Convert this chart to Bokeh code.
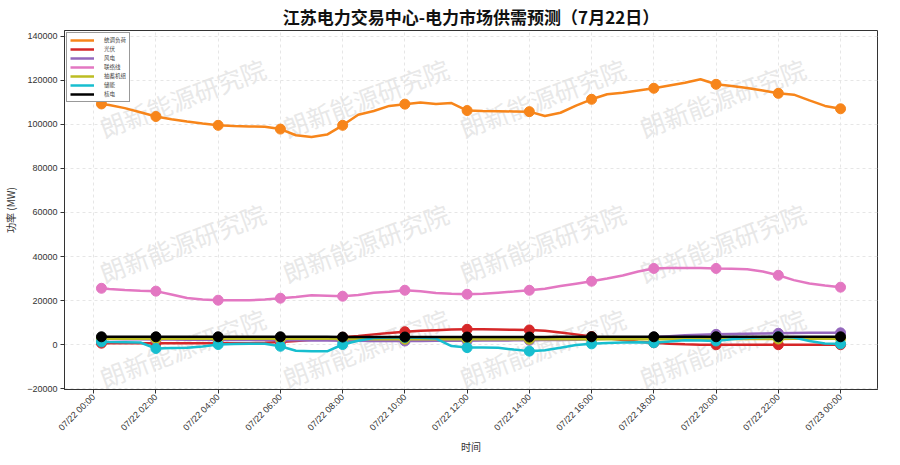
import pandas as pd
from math import pi
from bokeh.plotting import figure
from bokeh.models import (Range1d, FixedTicker, DatetimeTickFormatter, Legend, LegendItem,
                          Label, BasicTickFormatter)
from bokeh.embed import file_html
from bokeh.resources import INLINE

title_text = "江苏电力交易中心-电力市场供需预测（7月22日）"
x_label = "时间"
y_label = "功率 (MW)"
watermark = "朗新能源研究院"

series_names = ["统调负荷", "光伏", "风电", "联络线", "抽蓄机组", "储能", "核电"]
series_colors = ["#f7851a", "#d62728", "#9467bd", "#e377c2", "#bcbd22", "#17becf", "#000000"]

# time grid: 00:15, then every 30 min from 00:30 to next-day 00:00
times = pd.DatetimeIndex([pd.Timestamp("2024-07-22 00:15")]).append(
    pd.date_range("2024-07-22 00:30", "2024-07-23 00:00", freq="30min"))
tick_times = pd.date_range("2024-07-22 00:00", "2024-07-23 00:00", freq="2h")

load = [109200, 108700, 107300, 105400, 103500, 102300, 101200, 100300, 99500, 99200,
        99000, 98900, 97800, 95000, 94200, 95300, 99500, 104300, 106000, 108300,
        109100, 109900, 109200, 109600, 106200, 106000, 105900, 105800, 105700, 103700,
        105200, 108400, 111300, 113600, 114300, 115300, 116300, 117600, 118800, 120400,
        118100, 117300, 116400, 115300, 114000, 113400, 110800, 108300, 107000]
solar = [700, 700, 700, 700, 700, 700, 700, 700, 700, 700,
         700, 900, 1200, 1700, 2300, 2900, 3400, 4000, 4700, 5300,
         5900, 6300, 6600, 6900, 7000, 7000, 6900, 6800, 6700, 6300,
         5600, 4700, 3700, 2900, 2100, 1400, 900, 500, 200, 0,
         0, 0, 0, 0, 0, 0, 0, 0, 0]
wind = [2600, 2600, 2500, 2500, 2400, 2400, 2300, 2300, 2200, 2200,
        2100, 2100, 2000, 2000, 1900, 1900, 1800, 1800, 1700, 1700,
        1700, 1700, 1800, 1800, 1800, 1900, 1900, 2000, 2000, 2100,
        2200, 2300, 2500, 2700, 3000, 3200, 3500, 3900, 4300, 4500,
        4700, 4900, 5000, 5100, 5200, 5300, 5400, 5400, 5400]
tie_line = [25600, 25300, 24800, 24500, 24300, 22800, 21200, 20500, 20200, 20200,
            20200, 20500, 21100, 21700, 22400, 22200, 22000, 22600, 23600, 24000,
            24700, 24300, 23500, 23100, 22900, 23100, 23600, 24100, 24700, 25400,
            26600, 27700, 28800, 30000, 31400, 33200, 34600, 34800, 34800, 34800,
            34600, 34500, 34200, 33200, 31500, 29300, 27800, 26900, 26100]
pumped = [2700, 2700, 2700, 2700, 2700, 2700, 2700, 2700, 2700, 2700,
          2700, 2700, 2700, 2700, 2700, 2700, 2600, 2600, 2500, 2500,
          2500, 2500, 2500, 2500, 2500, 2500, 2500, 2500, 2500, 2500,
          2500, 2500, 2500, 2500, 2500, 2500, 2500, 2500, 2500, 2500,
          2600, 2600, 2600, 2600, 2600, 2700, 2700, 2700, 2700]
storage = [1300, 1200, 1100, 1000, -1700, -1500, -1400, -800, 100, 300,
           400, 400, -700, -2700, -3000, -3000, 100, 1800, 3000, 3300,
           3300, 3200, 2800, -600, -1300, -1300, -1400, -2200, -2900, -2500,
           -1400, -100, 400, 800, 1000, 1100, 900, 1500, 2000, 1900,
           1700, 2500, 3100, 3400, 3600, 3300, 1700, 600, 400]
nuclear = [3600, 3600, 3600, 3600, 3600, 3600, 3600, 3600, 3600, 3600,
           3600, 3600, 3600, 3600, 3600, 3600, 3500, 3500, 3500, 3500,
           3500, 3500, 3500, 3500, 3500, 3500, 3500, 3500, 3500, 3500,
           3600, 3600, 3600, 3600, 3600, 3600, 3600, 3600, 3600, 3600,
           3600, 3600, 3600, 3600, 3600, 3600, 3600, 3600, 3600]
series_values = [load, solar, wind, tie_line, pumped, storage, nuclear]

y_ticks = [-20000, 0, 20000, 40000, 60000, 80000, 100000, 120000, 140000]

# ---------------------------------------------------------------
ms = (times.astype("int64") // 10**6).astype(float)
tick_ms = list((tick_times.astype("int64") // 10**6).astype(float))
pad = (ms.max() - ms.min()) * 0.05
marker_mask = ((times.minute == 0) & (times.hour % 2 == 0))
marker_mask[0] = True

p = figure(width=884, height=457, output_backend="svg", toolbar_location=None,
           x_axis_type="datetime",
           x_range=Range1d(ms.min() - pad, ms.max() + pad),
           y_range=Range1d(-20300, 142500),
           min_border_left=54, min_border_right=7, min_border_top=0, min_border_bottom=40)

p.title.text = title_text
p.title.align = "center"
p.title.text_font = "Noto Sans CJK SC"
p.title.text_font_size = "17px"
p.title.text_font_style = "bold"
p.title.text_color = "#111111"
p.title.standoff = 3
p.title.offset = 0

p.outline_line_color = "#333333"
p.outline_line_width = 1
p.background_fill_color = "white"
p.border_fill_color = "white"

p.xgrid.grid_line_color = "#e6e6e6"
p.ygrid.grid_line_color = "#e6e6e6"
p.xgrid.grid_line_dash = "3 3"
p.ygrid.grid_line_dash = "3 3"

p.xaxis.ticker = FixedTicker(ticks=tick_ms)
fmt = "%m/%d %H:%M"
p.xaxis.formatter = DatetimeTickFormatter(minutes=fmt, hourmin=fmt, hours=fmt, days=fmt,
                                          months=fmt, years=fmt)
p.xaxis.major_label_orientation = pi / 4
p.yaxis.ticker = FixedTicker(ticks=y_ticks)
p.yaxis.formatter = BasicTickFormatter(use_scientific=False)

for ax in [p.xaxis[0], p.yaxis[0]]:
    ax.axis_line_color = "#333333"
    ax.major_tick_line_color = "#333333"
    ax.major_tick_out = 4
    ax.major_tick_in = 0
    ax.minor_tick_out = 0
    ax.minor_tick_in = 0
    ax.major_label_text_font = "Liberation Sans"
    ax.major_label_text_font_size = "9px"
    ax.major_label_text_color = "#333333"
    ax.axis_label_text_font = "Noto Sans CJK SC"
    ax.axis_label_text_font_size = "10px"
    ax.axis_label_text_font_style = "normal"
    ax.axis_label_text_color = "#333333"

p.xaxis.axis_label = x_label
p.yaxis.axis_label = y_label
p.xaxis.major_label_standoff = 2
p.yaxis.major_label_standoff = 3
p.xaxis.axis_label_standoff = 0
p.yaxis.axis_label_standoff = 6

# watermarks (screen units, relative to plot frame)
for wy in [292, 147, 42]:
    for wx in [118, 301, 478, 658]:
        p.add_layout(Label(x=wx, y=wy, x_units="screen", y_units="screen", text=watermark,
                           angle=0.36, text_align="center", text_baseline="middle",
                           text_font="Noto Sans CJK SC", text_font_size="25px",
                           text_color="#e2e2e2", text_alpha=0.8, level="underlay"))

items = []
for name, color, vals in zip(series_names, series_colors, series_values):
    r = p.line(ms, vals, line_color=color, line_width=2.5)
    mx = [m for m, k in zip(ms, marker_mask) if k]
    my = [v for v, k in zip(vals, marker_mask) if k]
    p.scatter(mx, my, size=10, fill_color=color, line_color=color, marker="circle")
    items.append(LegendItem(label=name, renderers=[r]))

legend = Legend(items=items, location="top_left")
legend.label_text_font = "Noto Sans CJK SC"
legend.label_text_font_size = "5.5px"
legend.label_text_line_height = 1.0
legend.label_height = 6
legend.glyph_height = 6
legend.glyph_width = 24
legend.label_standoff = 10
legend.spacing = 1
legend.padding = 3
legend.margin = 2
legend.border_line_color = "#333333"
legend.border_line_width = 1
legend.background_fill_alpha = 1.0
p.add_layout(legend)

open("out.html", "w").write(file_html(p, INLINE))
